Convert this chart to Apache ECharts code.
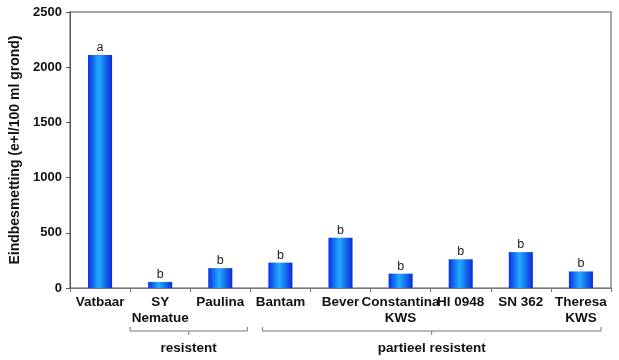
<!DOCTYPE html>
<html><head><meta charset="utf-8">
<script src="https://cdn.jsdelivr.net/npm/echarts@6/dist/echarts.min.js"></script>
<style>html,body{margin:0;padding:0;background:#fff}#c{width:619px;height:360px}</style>
</head><body><div id="c"></div>
<script>
const categories = ['Vatbaar','SY\nNematue','Paulina','Bantam','Bever','Constantina\nKWS','HI 0948','SN 362','Theresa\nKWS'];
const values = [2110, 55, 180, 230, 455, 130, 260, 325, 150];
const letters = ['a','b','b','b','b','b','b','b','b'];
const yTicks = [0, 500, 1000, 1500, 2000, 2500];
const groups = [
  {name: 'resistent', from: 1, to: 2, insetL: 0, insetR: 3},
  {name: 'partieel resistent', from: 3, to: 8, insetL: 12, insetR: 10}
];
const yName = 'Eindbesmetting (e+l/100 ml grond)';

const FONT = '"Liberation Sans", Arial, sans-serif';
const chart = echarts.init(document.getElementById('c'), null, {renderer: 'canvas'});
const grad = new echarts.graphic.LinearGradient(0, 0, 1, 0, [
  {offset: 0, color: '#0a2fe6'},
  {offset: 0.45, color: '#22acff'},
  {offset: 1, color: '#0a2ad8'}
]);
chart.setOption({
  animation: false,
  grid: {left: 67, right: 8, top: 12, bottom: 72, show: true, borderColor: '#8a8a8a', borderWidth: 1.5, backgroundColor: '#fff'},
  xAxis: {
    type: 'category', data: categories,
    axisLine: {lineStyle: {color: '#777', width: 1}},
    axisTick: {show: true, length: 4, inside: false, alignWithLabel: false, lineStyle: {color: '#777'}},
    axisLabel: {color: '#111', fontWeight: 'bold', fontSize: 13.5, fontFamily: FONT, margin: 6, interval: 0, lineHeight: 16}
  },
  yAxis: {
    type: 'value', min: 0, max: 2500, interval: 500,
    name: yName, nameLocation: 'middle', nameGap: 48, nameRotate: 90,
    nameTextStyle: {color: '#111', fontWeight: 'bold', fontSize: 14, fontFamily: FONT},
    axisLine: {show: true, lineStyle: {color: '#555', width: 1}},
    axisTick: {show: true, length: 4, lineStyle: {color: '#555'}},
    splitLine: {show: false},
    axisLabel: {color: '#111', fontWeight: 'bold', fontSize: 13, fontFamily: FONT, margin: 8,
      formatter: v => yTicks.includes(v) ? String(v) : ''}
  },
  series: [{
    type: 'bar', data: values, barWidth: '40%',
    itemStyle: {color: grad},
    label: {show: true, position: 'top', distance: 1, color: '#222', fontSize: 12.5, fontFamily: FONT,
      formatter: p => letters[p.dataIndex]}
  }]
});

// group brackets below the axis, positioned from category scale
const band = chart.convertToPixel({xAxisIndex: 0}, 1) - chart.convertToPixel({xAxisIndex: 0}, 0);
const yLine = 331;
const els = [];
groups.forEach(g => {
  const x1 = chart.convertToPixel({xAxisIndex: 0}, g.from) - band / 2 + g.insetL;
  const x2 = chart.convertToPixel({xAxisIndex: 0}, g.to) + band / 2 - g.insetR;
  const xc = (x1 + x2) / 2;
  const ls = {stroke: '#777', lineWidth: 1};
  els.push({type: 'polyline', shape: {points: [[x1, yLine - 4], [x1, yLine], [x2, yLine], [x2, yLine - 4]]}, style: Object.assign({fill: null}, ls)});
  els.push({type: 'line', shape: {x1: xc, y1: yLine, x2: xc, y2: yLine + 4}, style: ls});
  els.push({type: 'text', x: xc, y: 348, style: {text: g.name, fill: '#111', font: 'bold 13.5px ' + FONT, align: 'center', verticalAlign: 'middle'}});
});
chart.setOption({graphic: {elements: els}});
</script></body></html>
